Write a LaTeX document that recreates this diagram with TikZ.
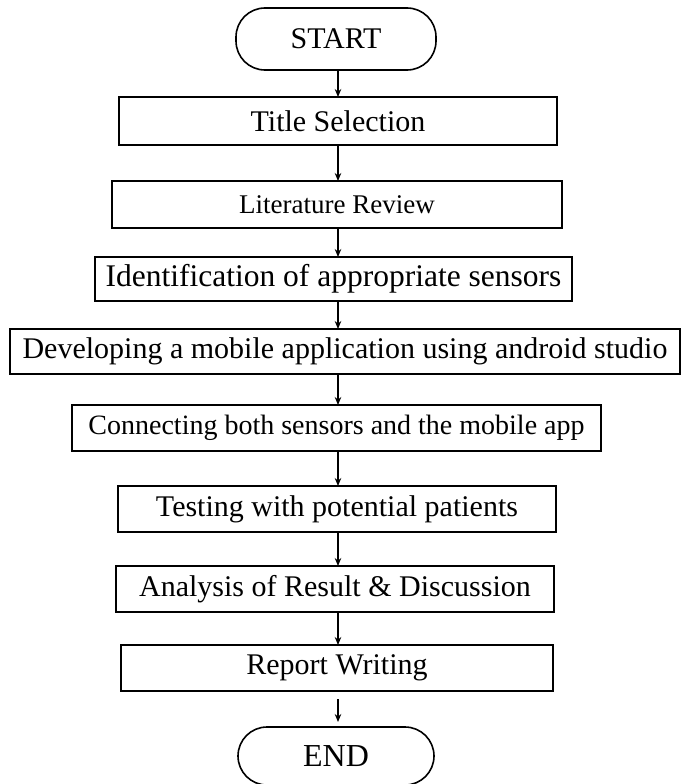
\documentclass[tikz,border=0pt]{standalone}
\usepackage{fontspec}
\setmainfont{Liberation Serif}
\usetikzlibrary{arrows.meta}
\begin{document}
\begin{tikzpicture}[x=1pt,y=-1pt,
  every node/.style={font=\fontsize{30}{36}\selectfont, inner sep=0pt, outer sep=0pt},
  stepbox/.style={draw, line width=1.9pt, rectangle, minimum height=46pt},
  terminal/.style={draw, line width=1.6pt, rectangle, rounded corners=29pt, minimum width=198pt, minimum height=60pt},
  flow/.style={line width=1.5pt, -{Stealth[length=8pt,width=6.5pt]}}
]
\useasboundingbox (0,0) rectangle (690,784);

% common vertical axis of the connectors
\coordinate (axis) at (338,0);

\node[terminal, minimum width=200pt, minimum height=62pt] (start) at (336,39) {START};
\node[stepbox, minimum width=438pt, minimum height=48pt] (title) at (338,121) {Title Selection};
\node[stepbox, minimum width=450pt, minimum height=47pt, font=\fontsize{27}{32}\selectfont] (lit) at (337,204.5) {Literature Review};
\node[stepbox, minimum width=477pt, minimum height=44pt, font=\fontsize{31.5}{38}\selectfont] (ident) at (333.5,279) {Identification of appropriate sensors};
\node[stepbox, minimum width=670pt, minimum height=45pt] (dev) at (345,351.5) {Developing a mobile application using android studio};
\node[stepbox, minimum width=529pt, font=\fontsize{28}{34}\selectfont] (conn) at (336.5,428) {Connecting both sensors and the mobile app};
\node[stepbox, minimum width=438pt] (test) at (337,509) {Testing with potential patients};
\node[stepbox, minimum width=438pt] (anal) at (335,589) {Analysis of Result \& Discussion};
\node[stepbox, minimum width=432pt] (report) at (337,668) {Report Writing};
\node[terminal, minimum width=196pt, minimum height=58pt, font=\fontsize{32}{38}\selectfont] (end) at (336,756) {END};

\draw[flow] (start.south -| axis) -- (title.north -| axis);
\draw[flow] (title.south -| axis) -- (lit.north -| axis);
\draw[flow] (lit.south -| axis) -- (ident.north -| axis);
\draw[flow] (ident.south -| axis) -- (dev.north -| axis);
\draw[flow] (dev.south -| axis) -- (conn.north -| axis);
\draw[flow] (conn.south -| axis) -- (test.north -| axis);
\draw[flow] (test.south -| axis) -- (anal.north -| axis);
\draw[flow] (anal.south -| axis) -- (report.north -| axis);
\draw[flow, shorten <=8pt, shorten >=5pt] (report.south -| axis) -- (end.north -| axis);
\end{tikzpicture}
\end{document}
